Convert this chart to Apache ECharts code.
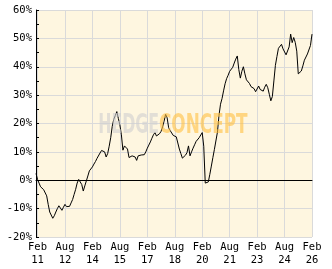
<!DOCTYPE html>
<html>
<head>
<meta charset="utf-8">
<script src="https://cdn.jsdelivr.net/npm/echarts@6/dist/echarts.min.js"></script>
<style>
  html, body { margin: 0; padding: 0; background: #fff; }
  #chart { width: 332px; height: 269px; }
</style>
</head>
<body>
<div id="chart"></div>
<script>
// monthly performance in %, Jan 2011 .. Feb 2026
var perf = [
  2.4, 0.3, -1.0, -2.3, -3.0, -3.3, -4.0, -5.5, -8.5, -11.2,
  -11.8, -13.4, -12.5, -11.2, -10.0, -9.0, -9.5, -10.6, -9.5, -8.5,
  -9.3, -9.6, -9.2, -8.0, -6.8, -5.0, -3.2, -1.0, 0.3, 1.0,
  -1.5, -3.8, -2.0, -1.5, 1.5, 3.3, 3.4, 4.7, 5.7, 6.6,
  7.7, 8.3, 9.6, 10.5, 10.9, 10.0, 8.2, 9.4, 12.0, 15.0,
  19.0, 21.5, 22.8, 24.2, 21.8, 19.5, 16.0, 10.6, 12.1, 12.5,
  11.0, 8.0, 7.4, 8.6, 7.9, 8.2, 7.0, 8.6, 8.6, 8.9,
  8.2, 9.0, 10.0, 11.3, 12.4, 13.5, 14.8, 16.0, 16.8, 15.6,
  15.4, 16.4, 17.2, 18.8, 20.8, 23.2, 22.0, 18.5, 17.5, 17.0,
  15.8, 15.9, 15.3, 14.8, 11.0, 9.4, 7.8, 7.6, 8.8, 9.7,
  12.1, 8.6, 10.0, 11.3, 12.5, 13.7, 13.6, 15.0, 15.7, 16.8,
  12.0, -1.0, -1.3, -0.6, 2.1, 5.0, 8.0, 10.9, 11.0, 17.0,
  22.8, 26.8, 28.8, 31.5, 34.0, 35.8, 37.0, 38.4, 38.5, 39.8,
  41.3, 42.7, 43.8, 39.0, 36.0, 38.4, 40.0, 37.5, 35.4, 34.7,
  34.1, 33.0, 32.6, 32.3, 31.2, 30.5, 33.2, 32.0, 31.8, 31.4,
  32.8, 33.8, 32.6, 30.3, 28.0, 29.5, 35.0, 40.5, 43.6, 46.5,
  46.7, 47.9, 46.3, 45.6, 44.2, 44.8, 47.0, 51.5, 48.5, 50.3,
  48.6, 45.5, 37.5, 37.0, 38.5, 40.3, 42.3, 43.0, 44.5, 44.5,
  47.5, 51.5
];

var tickLabels = ['Feb\n11', 'Aug\n12', 'Feb\n14', 'Aug\n15', 'Feb\n17', 'Aug\n18',
                  'Feb\n20', 'Aug\n21', 'Feb\n23', 'Aug\n24', 'Feb\n26'];

// month categories, one per value
var months = [];
for (var i = 0; i < perf.length; i++) {
  var y = 2011 + Math.floor(i / 12);
  var m = (i % 12) + 1;
  months.push(y + '-' + (m < 10 ? '0' + m : m));
}

function isTick(idx) { return (idx - 1) % 18 === 0; }

var wmFont = 'bold 24px "Liberation Sans Narrow", "DejaVu Sans Condensed", sans-serif';

var myChart = echarts.init(document.getElementById('chart'));
myChart.setOption({
  animation: false,
  backgroundColor: '#fff',
  grid: {
    left: 36, right: 20, top: 10, bottom: 32,
    show: true,
    backgroundColor: '#FEF6E0',
    borderWidth: 0
  },
  xAxis: {
    type: 'category',
    data: months,
    boundaryGap: false,
    axisLine: { lineStyle: { color: '#000', width: 1 } },
    axisTick: { show: false },
    axisLabel: {
      interval: isTick,
      formatter: function (v, idx) { return tickLabels[(idx - 1) / 18]; },
      color: '#000',
      fontFamily: 'DejaVu Sans Mono',
      fontSize: 10.5,
      lineHeight: 13,
      margin: 4
    },
    splitLine: {
      show: true,
      interval: isTick,
      lineStyle: { color: '#DADADA', width: 1 }
    }
  },
  yAxis: {
    type: 'value',
    min: -20, max: 60, interval: 10,
    axisLine: { show: true, lineStyle: { color: '#000', width: 1 } },
    axisTick: { show: true, inside: true, length: 3, lineStyle: { color: '#000' } },
    minorTick: { show: true, splitNumber: 2, length: 3, lineStyle: { color: '#000' } },
    axisLabel: {
      formatter: '{value}%',
      color: '#000',
      fontFamily: 'DejaVu Sans Mono',
      fontSize: 10.5,
      margin: 4
    },
    splitLine: { lineStyle: { color: '#DADADA', width: 1 } }
  },
  series: [{
    type: 'line',
    data: perf,
    showSymbol: false,
    lineStyle: { color: '#000', width: 1 },
    z: 2
  }],
  graphic: [
    {
      type: 'text', z: 100,
      x: 159, y: 126, originX: 0, originY: 0, scaleX: 0.73, scaleY: 1.12,
      style: {
        text: 'HEDGE', fill: '#CFCFCF', opacity: 0.6,
        font: wmFont,
        align: 'right', verticalAlign: 'middle'
      }
    },
    {
      type: 'text', z: 100,
      x: 159, y: 126, originX: 0, originY: 0, scaleX: 0.78, scaleY: 1.12,
      style: {
        text: 'CONCEPT', fill: '#FFC040', opacity: 0.6,
        font: wmFont,
        align: 'left', verticalAlign: 'middle'
      }
    }
  ]
});
</script>
</body>
</html>
